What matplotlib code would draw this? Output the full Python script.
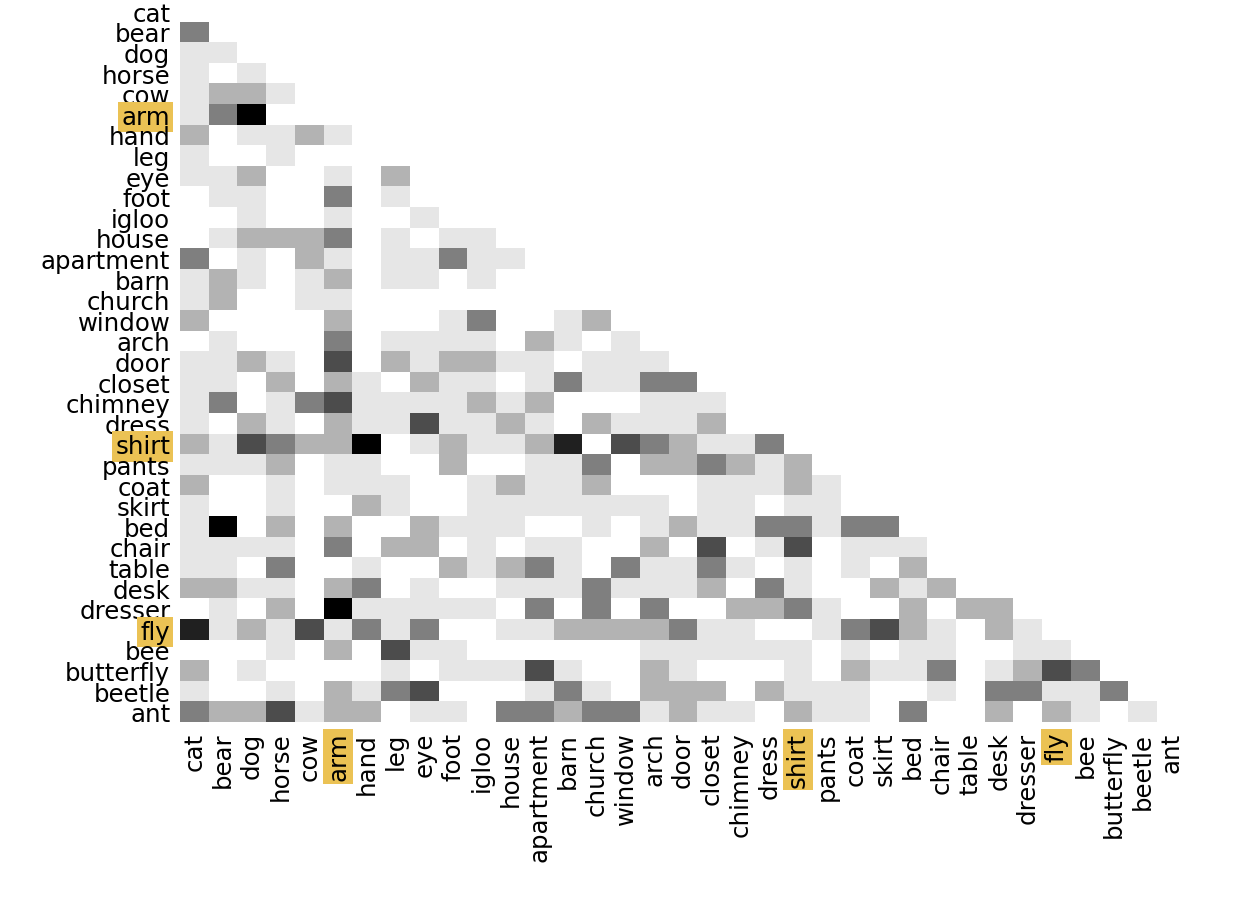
import numpy as np
import matplotlib.pyplot as plt

# labels (same order on both axes)
words = ['cat', 'bear', 'dog', 'horse', 'cow', 'arm', 'hand', 'leg', 'eye', 'foot',
         'igloo', 'house', 'apartment', 'barn', 'church', 'window', 'arch', 'door',
         'closet', 'chimney', 'dress', 'shirt', 'pants', 'coat', 'skirt', 'bed',
         'chair', 'table', 'desk', 'dresser', 'fly', 'bee', 'butterfly', 'beetle', 'ant']
highlight = ['arm', 'shirt', 'fly']

# gray level codes -> value (0 = white, 1 = black)
levels = [0.0, 0.1, 0.3, 0.5, 0.7, 0.87, 1.0]

# lower triangle, one string per row (row i has i cells)
rows = [
    "",
    "3",
    "11",
    "101",
    "1221",
    "13600",
    "201121",
    "1001000",
    "11200102",
    "011003010",
    "0010010010",
    "01222301011",
    "301021011311",
    "1210120110100",
    "12001100000000",
    "200002000130012",
    "0100030111102101",
    "11210402122110111",
    "110202102110131133",
    "1301341111212000111",
    "10210211411210211120",
    "214322601211250432113",
    "1112011002001130223212",
    "20010111001211200011121",
    "100100210011111110110110",
    "1602020021110010121133133",
    "11110302201011002040140111",
    "110300100212310311310101020",
    "2211023010011131112031002120",
    "01020611111030303002231002022",
    "512141313001122223110013421021",
    "0001020411000000111111010110011",
    "20100001011141002100010211301243",
    "100102134000131022202111001033113",
    "3224122011033233121102110300202101",
]

n = len(words)
M = np.full((n, n), np.nan)
for i, r in enumerate(rows):
    for j, ch in enumerate(r):
        M[i, j] = levels[int(ch)]

fig = plt.figure(figsize=(12.56, 9.03), dpi=100)
ax = fig.add_axes([180/1256, 1 - 723/903, 1006/1256, 721/903])
cmap = plt.get_cmap('binary').copy()
cmap.set_bad('white')
ax.imshow(M, cmap=cmap, vmin=0, vmax=1, aspect='auto', interpolation='nearest')

ax.set_xticks(range(n))
ax.set_yticks(range(n))
ax.set_xticklabels(words, rotation=90, fontsize=17.6)
ax.set_yticklabels(words, fontsize=17.6)
ax.tick_params(length=0, pad=7)
for s in ax.spines.values():
    s.set_visible(False)

for lab in ax.get_xticklabels() + ax.get_yticklabels():
    if lab.get_text() in highlight:
        lab.set_bbox(dict(facecolor='#ebc254', edgecolor='none', pad=2.3))

plt.savefig("out.png")
